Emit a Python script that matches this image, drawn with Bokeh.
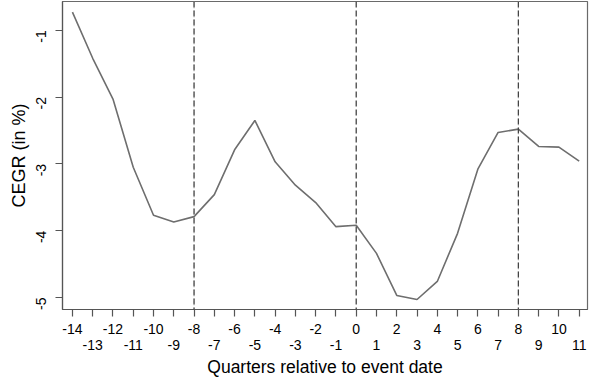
import math
from bokeh.plotting import figure
from bokeh.models import Range1d, FixedTicker, LinearAxis, Span
from bokeh.embed import file_html
from bokeh.resources import INLINE

quarters = list(range(-14, 12))
cegr = [-0.73, -1.42, -2.03, -3.05, -3.77, -3.87, -3.79, -3.46, -2.79, -2.35,
        -2.97, -3.32, -3.58, -3.94, -3.92, -4.34, -4.97, -5.03, -4.76, -4.04,
        -3.08, -2.53, -2.48, -2.74, -2.75, -2.96]
even_ticks = [q for q in quarters if q % 2 == 0]
odd_ticks = [q for q in quarters if q % 2 != 0]
y_ticks = [-1, -2, -3, -4, -5]
event_lines = [-8, 0, 8]
x_title = "Quarters relative to event date"
y_title = "CEGR (in %)"

FONT = "Liberation Sans"
X0, X1 = -14.49, 11.41
Y0, Y1 = -5.18, -0.57

p = figure(frame_width=525, frame_height=308, output_backend="svg", toolbar_location=None,
           x_range=Range1d(X0, X1), y_range=Range1d(Y0, Y1),
           x_axis_type=None, y_axis_type=None,
           min_border_left=0, min_border_right=2, min_border_top=1, min_border_bottom=0)
p.background_fill_color = "white"
p.border_fill_color = "white"
p.outline_line_color = "#6a6a6a"
p.outline_line_width = 1.2
p.xgrid.visible = False
p.ygrid.visible = False

# vertical event lines
for xv in event_lines:
    if xv != 0:
        p.add_layout(Span(location=xv, dimension="height", line_color="#c8c8c8",
                          line_width=1, line_dash="1 2"))
    p.add_layout(Span(location=xv, dimension="height", line_color="#444444",
                      line_width=1.3, line_dash="6 3"))

p.line(quarters, cegr, line_color="#6e6e6e", line_width=1.6)

# y axis
yax = LinearAxis(ticker=FixedTicker(ticks=y_ticks), axis_label=y_title,
                 major_label_overrides={t: str(t) for t in y_ticks})
yax.major_label_orientation = math.pi / 2
# bottom axes (two rows of labels)
lab1 = {q: (str(q) if q % 2 == 0 else "") for q in quarters}
xax1 = LinearAxis(ticker=FixedTicker(ticks=quarters), major_label_overrides=lab1)
xax2 = LinearAxis(ticker=FixedTicker(ticks=odd_ticks),
                  major_label_overrides={q: str(q) for q in odd_ticks})

for ax in (yax, xax1, xax2):
    ax.axis_line_color = "#555555"
    ax.axis_line_width = 1.2
    ax.major_tick_line_color = "#555555"
    ax.major_tick_line_width = 1.2
    ax.major_tick_out = 7
    ax.major_tick_in = 0
    ax.minor_tick_line_color = None
    ax.major_label_text_font = FONT
    ax.major_label_text_font_size = "14px"
    ax.major_label_text_color = "black"
    ax.axis_label_text_font = FONT
    ax.axis_label_text_font_size = "18px"
    ax.axis_label_text_font_style = "normal"
    ax.axis_label_text_color = "black"

yax.major_label_standoff = 14
yax.axis_label_standoff = 0
xax1.major_label_standoff = 7
xax2.axis_line_color = None
xax2.major_tick_line_color = None
xax2.major_tick_out = 0
xax2.major_label_standoff = 3


def label_axis(size, at, text="", font_size="1px", standoff=0):
    # invisible axis whose single tick label carries a text (or just pads)
    ax = LinearAxis(ticker=FixedTicker(ticks=[at]), major_label_overrides={at: text})
    ax.axis_line_color = None
    ax.major_tick_line_color = None
    ax.minor_tick_line_color = None
    ax.major_tick_out = size
    ax.major_tick_in = 0
    ax.major_label_standoff = standoff
    ax.major_label_text_font = FONT
    ax.major_label_text_font_size = font_size
    ax.major_label_text_color = "black"
    return ax


p.add_layout(yax, "left")
p.add_layout(label_axis(5, (Y0 + Y1) / 2), "left")
p.add_layout(xax1, "below")
p.add_layout(xax2, "below")
p.add_layout(label_axis(0, (X0 + X1) / 2, x_title, "17.5px", 4), "below")

open("out.html", "w").write(file_html(p, INLINE))
